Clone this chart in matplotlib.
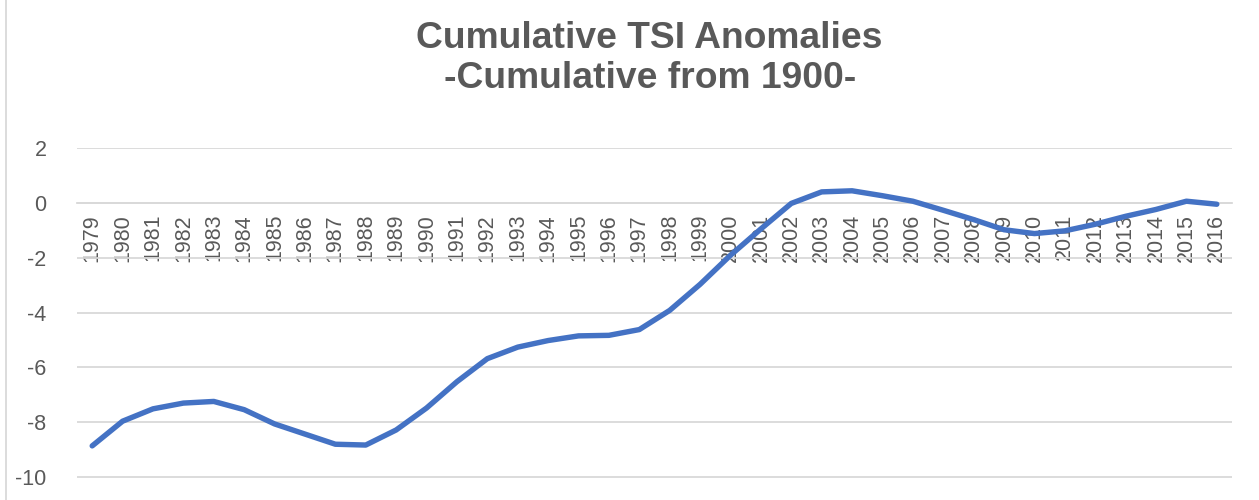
import numpy as np
import matplotlib
matplotlib.use('Agg')
import matplotlib.pyplot as plt
from matplotlib.lines import Line2D

# data
years = [str(y) for y in range(1979, 2017)]
tsi_cumulative = [-8.86, -7.96, -7.51, -7.30, -7.24, -7.54, -8.06, -8.43, -8.80, -8.83,
                  -8.28, -7.48, -6.52, -5.68, -5.26, -5.02, -4.85, -4.83, -4.62, -3.92,
                  -2.97, -1.91, -0.95, -0.02, 0.40, 0.44, 0.26, 0.06, -0.27, -0.61,
                  -0.98, -1.12, -1.02, -0.78, -0.49, -0.24, 0.06, -0.05]
yticks = [-10, -8, -6, -4, -2, 0, 2]

title_line1 = 'Cumulative TSI Anomalies'
title_line2 = '-Cumulative from 1900-'

grey_text = '#595959'
grid_col = '#d9d9d9'
line_col = '#4472c4'

plt.rcParams['font.family'] = ['Liberation Sans', 'DejaVu Sans']
plt.rcParams['axes.unicode_minus'] = False

fig = plt.figure(figsize=(12.59, 5.0), dpi=100)
# plot area runs past the bottom edge, as in the cropped reference
ax = fig.add_axes([77 / 1259, -0.064, (1232 - 77) / 1259, 0.768])

x = np.arange(len(years))
ax.plot(x, tsi_cumulative, color=line_col, lw=3.9, solid_joinstyle='round',
        solid_capstyle='round', zorder=3)

ax.set_xlim(-0.5, len(years) - 0.5)
ax.set_ylim(-12, 2)
ax.set_yticks(yticks)
ax.yaxis.grid(True, color=grid_col, lw=1.3)
ax.set_axisbelow(True)

for side in ['top', 'right', 'left']:
    ax.spines[side].set_visible(False)
ax.spines['bottom'].set_position(('data', 0))
ax.spines['bottom'].set_color(grid_col)
ax.spines['bottom'].set_linewidth(1.3)

ax.set_xticks(x)
ax.set_xticklabels(years, rotation=90, va='top', ha='center')
ax.tick_params(axis='x', length=0, pad=8, labelsize=15.5, labelcolor=grey_text)
ax.tick_params(axis='y', length=0, pad=22, labelsize=15.5, labelcolor=grey_text)

fig.text(0.516, 0.924, title_line1, ha='center', va='center', fontsize=26.8,
         fontweight='bold', color=grey_text)
fig.text(0.516, 0.842, title_line2, ha='center', va='center', fontsize=26.8,
         fontweight='bold', color=grey_text)

# chart border on the left
fig.add_artist(Line2D([6 / 1259, 6 / 1259], [0, 1], color=grid_col, lw=1.3,
                      transform=fig.transFigure))

fig.savefig('out.png', dpi=100)
